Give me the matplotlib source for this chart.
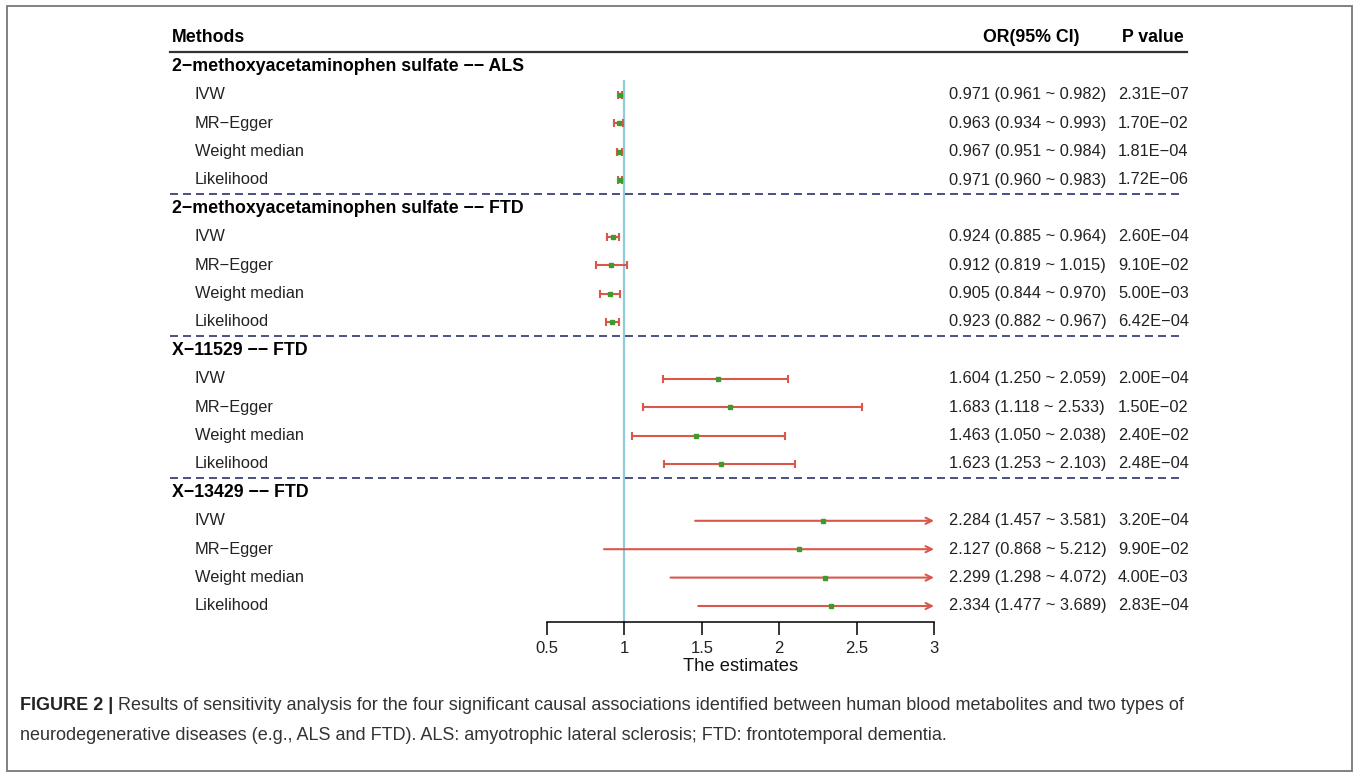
import matplotlib.pyplot as plt
import matplotlib.transforms as mtransforms
from matplotlib.patches import Rectangle

plt.rcParams['font.family'] = ['Liberation Sans', 'DejaVu Sans']

# data
groups = ["2\u2212methoxyacetaminophen sulfate \u2212\u2212 ALS",
          "2\u2212methoxyacetaminophen sulfate \u2212\u2212 FTD",
          "X\u221211529 \u2212\u2212 FTD",
          "X\u221213429 \u2212\u2212 FTD"]
methods = ["IVW", "MR\u2212Egger", "Weight median", "Likelihood"]
or_est = [0.971, 0.963, 0.967, 0.971,
          0.924, 0.912, 0.905, 0.923,
          1.604, 1.683, 1.463, 1.623,
          2.284, 2.127, 2.299, 2.334]
ci_lo = [0.961, 0.934, 0.951, 0.960,
         0.885, 0.819, 0.844, 0.882,
         1.250, 1.118, 1.050, 1.253,
         1.457, 0.868, 1.298, 1.477]
ci_hi = [0.982, 0.993, 0.984, 0.983,
         0.964, 1.015, 0.970, 0.967,
         2.059, 2.533, 2.038, 2.103,
         3.581, 5.212, 4.072, 3.689]
p_val = [2.31e-07, 1.70e-02, 1.81e-04, 1.72e-06,
         2.60e-04, 9.10e-02, 5.00e-03, 6.42e-04,
         2.00e-04, 1.50e-02, 2.40e-02, 2.48e-04,
         3.20e-04, 9.90e-02, 4.00e-03, 2.83e-04]
xticks = [0.5, 1, 1.5, 2, 2.5, 3]

W, H = 1357, 775
fig = plt.figure(figsize=(W / 100, H / 100), dpi=100)

# forest panel: x from 0.5 (547px) to 3 (934px), rows of 28.4px, axis at 622px
row_h = 28.4
y0 = 38.0
ax_bottom_px = 622
r_top = -y0 / row_h
r_bot = (ax_bottom_px - y0) / row_h
ax = fig.add_axes([547 / W, 1 - ax_bottom_px / H, (934 - 547) / W, ax_bottom_px / H])
ax.set_xlim(0.5, 3)
ax.set_ylim(r_bot, r_top)
ax.patch.set_alpha(0)
for s in ['top', 'right', 'left']:
    ax.spines[s].set_visible(False)
ax.spines['bottom'].set_linewidth(1.1)
ax.set_yticks([])
ax.set_xticks(xticks)
ax.set_xticklabels([f"{t:g}" for t in xticks], fontsize=12, color='#222222')
ax.tick_params(axis='x', length=9, width=1.1, pad=5)
ax.set_xlabel("The estimates", fontsize=13.2, color='#111111', labelpad=1)

tr = mtransforms.blended_transform_factory(fig.transFigure, ax.transData)
fx = lambda px: px / W

red = '#d9574b'
green = '#3f9a2c'
navy = '#2b3270'

# reference line
ax.plot([1, 1], [1.5, r_bot], color='#8ecbdc', lw=1.6, zorder=1, clip_on=False)

# header
ax.text(fx(172), 0, "Methods", transform=tr, fontsize=12.8, fontweight='bold', va='center', ha='left')
ax.text(fx(1031), 0, "OR(95% CI)", transform=tr, fontsize=12.8, fontweight='bold', va='center', ha='center')
ax.text(fx(1122), 0, "P value", transform=tr, fontsize=12.8, fontweight='bold', va='center', ha='left')
ax.plot([fx(170), fx(1187)], [0.5, 0.5], transform=tr, color='#333333', lw=1.6, clip_on=False)

for g, gname in enumerate(groups):
    rg = 1 + g * 5
    ax.text(fx(172), rg, gname, transform=tr, fontsize=12.8, fontweight='bold', va='center', ha='left')
    if g > 0:
        ax.plot([fx(170), fx(1182)], [rg - 0.5, rg - 0.5], transform=tr, color=navy, lw=1.2,
                linestyle=(0, (4.8, 3)), clip_on=False)
    for m, mname in enumerate(methods):
        i = g * 4 + m
        r = rg + 1 + m
        ax.text(fx(195), r, mname, transform=tr, fontsize=11.8, va='center', ha='left', color='#222222')
        ax.text(fx(949), r, f"{or_est[i]:.3f} ({ci_lo[i]:.3f} ~ {ci_hi[i]:.3f})", transform=tr,
                fontsize=11.8, va='center', ha='left', color='#222222')
        ax.text(fx(1118), r, f"{p_val[i]:.2E}".replace('-', '\u2212'), transform=tr,
                fontsize=11.8, va='center', ha='left', color='#222222')
        if ci_hi[i] > 3:
            ax.annotate('', xy=(3, r), xytext=(ci_lo[i], r),
                        arrowprops=dict(arrowstyle='->', color=red, lw=1.5, shrinkA=0, shrinkB=0,
                                        mutation_scale=11))
        else:
            ax.plot([ci_lo[i], ci_hi[i]], [r, r], color=red, lw=1.5, zorder=2)
            ax.plot([ci_lo[i], ci_hi[i]], [r, r], ls='none', marker='|', ms=6, mew=1.5, color=red, zorder=2)
        ax.plot(or_est[i], r, ls='none', marker='s', ms=3, color=green, zorder=3)

# outer frame
fig.add_artist(Rectangle((7 / W, 1 - 771 / H), (1352 - 7) / W, (771 - 6) / H, transform=fig.transFigure,
                         fill=False, edgecolor='#777777', lw=1.3))

# caption
cap1 = fig.text(fx(20), 1 - 705 / H, "FIGURE 2 |", fontsize=13, fontweight='bold', va='center',
                ha='left', color='#222222')
ax.annotate(" Results of sensitivity analysis for the four significant causal associations identified "
            "between human blood metabolites and two types of",
            xy=(1, 0), xycoords=cap1, va='bottom', ha='left', fontsize=13, color='#333333',
            annotation_clip=False)
fig.text(fx(20), 1 - 735 / H, "neurodegenerative diseases (e.g., ALS and FTD). ALS: amyotrophic lateral "
         "sclerosis; FTD: frontotemporal dementia.", fontsize=13, va='center', ha='left', color='#333333')

fig.savefig("out.png", dpi=100)
